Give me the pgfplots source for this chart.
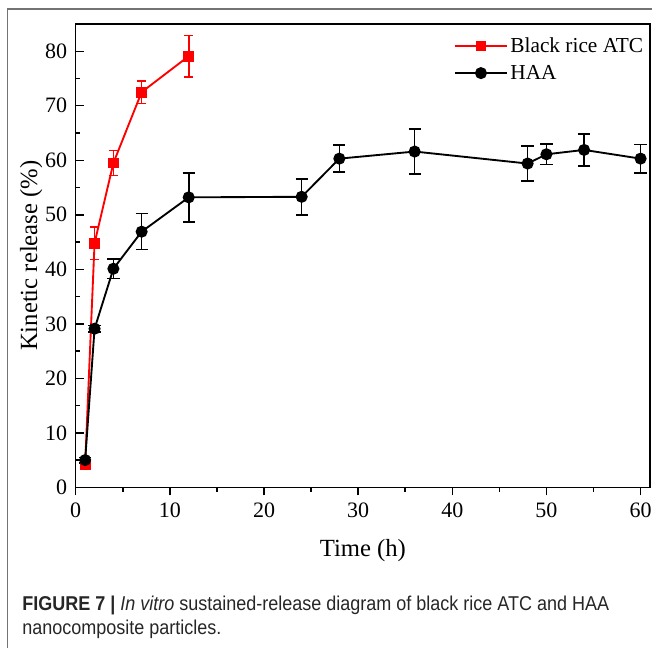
\documentclass[border=0pt]{standalone}
\usepackage{pgfplots}
\pgfplotsset{compat=1.18}
\usepackage{fontspec}
\setmainfont{Liberation Serif}
\newfontfamily\capfont[FakeStretch=0.9]{Liberation Sans}

\begin{document}
\begin{tikzpicture}
\useasboundingbox (0,0) rectangle (489pt,486pt);
% outer figure frame (cropped at right and bottom)
\draw[black!55, line width=0.9pt] (5.5pt,-2pt) -- (5.5pt,479.3pt) -- (492pt,479.3pt);

\begin{axis}[
  at={(56.8pt,120.5pt)}, anchor=south west,
  scale only axis, width=430.7pt, height=347.5pt,
  xmin=0, xmax=61, ymin=0, ymax=85,
  xtick={0,10,...,60}, ytick={0,10,...,80},
  xticklabels={0,10,20,30,40,50,60},
  yticklabels={0,10,20,30,40,50,60,70,80},
  minor xtick={5,15,...,55}, minor ytick={5,15,...,75},
  axis line style={line width=1.1pt},
  major tick length=6pt, minor tick length=3.5pt,
  every tick/.style={black, line width=1.1pt},
  x tick style={/pgfplots/tick align=outside},
  y tick style={/pgfplots/tick align=inside},
  xtick pos=bottom, ytick pos=left,
  tick label style={font=\fontsize{16.5}{19}\selectfont},
  xticklabel style={anchor=north, yshift=-8pt},
  yticklabel style={anchor=east, xshift=-3pt},
  xlabel={Time (h)}, ylabel={Kinetic release (\%)},
  label style={font=\fontsize{18.5}{21}\selectfont},
  xlabel style={at={(axis description cs:0.5,0)}, anchor=base, yshift=-52pt},
  ylabel style={at={(axis description cs:0,0.5)}, anchor=base, yshift=29pt},
  legend style={at={(rel axis cs:1,1)}, anchor=north east, xshift=-2pt, yshift=-7pt,
    draw=none, fill=none, font=\fontsize{16}{18}\selectfont, row sep=4pt,
    inner sep=1pt},
  legend cell align=left,
  legend image code/.code={\draw[mark repeat=2, mark phase=2, #1]
    plot coordinates {(0cm,0cm) (0.68cm,0cm) (1.36cm,0cm)};},
]
\addplot[red, line width=1.4pt, mark=square*, mark size=3.4pt,
  mark options={solid},
  error bars/.cd, y dir=both, y explicit,
  error bar style={red, line width=1.2pt},
  error mark options={red, rotate=90, mark size=3.2pt, line width=1.2pt}]
  table[x=t, y=r, y error=e] {
t r e
1 4.2 0.8
2 44.8 3.0
4 59.5 2.3
7 72.5 2.05
12 79.1 3.8
};
\addlegendentry{Black rice ATC}

\addplot[black, line width=1.4pt, mark=*, mark size=3.8pt,
  error bars/.cd, y dir=both, y explicit,
  error bar style={black, line width=1.2pt},
  error mark options={black, rotate=90, mark size=4.6pt, line width=1.2pt}]
  table[x=t, y=r, y error=e] {
t r e
1 5.0 0.5
2 29.1 0.6
4 40.1 1.8
7 46.9 3.3
12 53.2 4.5
24 53.3 3.3
28 60.3 2.5
36 61.6 4.1
48 59.4 3.2
50 61.1 1.9
54 61.9 2.9
60 60.3 2.6
};
\addlegendentry{HAA}
\end{axis}

% caption
\node[anchor=base west, inner sep=0pt, text=black!85, font=\capfont\fontsize{15}{18}\selectfont]
  at (16.5pt,27.75pt) {\textbf{FIGURE 7 |} \textit{In vitro} sustained-release diagram of black rice ATC and HAA};
\node[anchor=base west, inner sep=0pt, text=black!85, font=\capfont\fontsize{15}{18}\selectfont]
  at (16.5pt,9.75pt) {nanocomposite particles.};
\end{tikzpicture}
\end{document}
